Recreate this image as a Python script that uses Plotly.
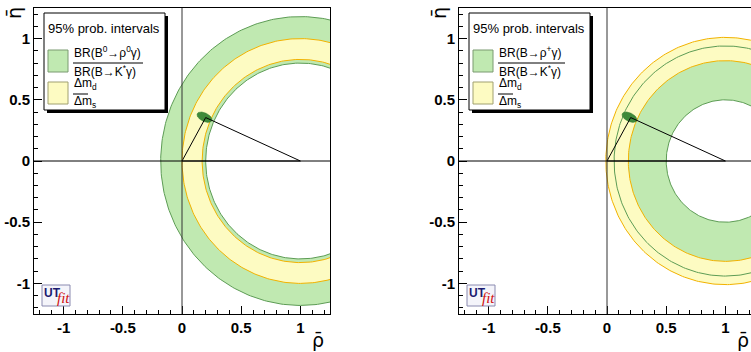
import numpy as np
import plotly.graph_objects as go

# ---------------- data ----------------
rho_tickvals = [-1, -0.5, 0, 0.5, 1]
rho_ticktext = ["-1", "-0.5", "0", "0.5", "1"]
eta_tickvals = [-1, -0.5, 0, 0.5, 1]
eta_ticktext = ["-1", "-0.5", "0", "0.5", "1"]
axis_range = [-1.25, 1.25]

circle_center = [1.0, 0.0]           # (rho, eta) of the constraint circles
# left panel: BR(B0->rho0 gamma)/BR(B->K* gamma) and dm_d/dm_s (inner, outer radius)
left_br_band = [0.80, 1.18]
left_dm_band = [0.83, 1.00]
# right panel: BR(B->rho+ gamma)/BR(B->K* gamma) and dm_d/dm_s
right_br_band = [0.50, 0.94]
right_dm_band = [0.82, 1.01]

fit_center = [0.19, 0.358]
fit_semi_axes = [0.068, 0.035]
fit_angle_deg = -25

triangle_rho = [0, 1, 0.20, 0]
triangle_eta = [0, 0, 0.355, 0]

legend_title = "95% prob. intervals"
legend_numerators = ["BR(B<sup>0</sup>→ρ<sup>0</sup>γ)", "BR(B→ρ<sup>+</sup>γ)"]
legend_denominator = "BR(B→K<sup>*</sup>γ)"
dm_num = "Δm<sub>d</sub>"
dm_den = "Δm<sub>s</sub>"

# ---------------- style ----------------
W, H = 751, 352
GREEN_FILL = "#c0e9b1"
GREEN_LINE = "#5d9c55"
YELLOW_FILL = "#fdfbc2"
ORANGE_LINE = "#f2b200"
FIT_FILL = "#3f8a3a"
FONT = "Liberation Sans"


def px(x):
    return x / W


def py(y):
    return 1 - y / H


theta = np.linspace(0, 2 * np.pi, 361)


def circle(r):
    return circle_center[0] + r * np.cos(theta), circle_center[1] + r * np.sin(theta)


def annulus(band):
    xo, yo = circle(band[1])
    xi, yi = circle(band[0])
    return np.concatenate([xo, xi[::-1]]), np.concatenate([yo, yi[::-1]])


fig = go.Figure()

panels = [
    dict(xa="x", ya="y", br=left_br_band, dm=left_dm_band),
    dict(xa="x2", ya="y2", br=right_br_band, dm=right_dm_band),
]

for p in panels:
    xa, ya = p["xa"], p["ya"]
    ax_, ay_ = annulus(p["br"])
    fig.add_trace(go.Scatter(x=ax_, y=ay_, mode="lines", fill="toself", fillcolor=GREEN_FILL,
                             line=dict(width=0, color=GREEN_FILL), xaxis=xa, yaxis=ya,
                             hoverinfo="skip", showlegend=False))
    ax_, ay_ = annulus(p["dm"])
    fig.add_trace(go.Scatter(x=ax_, y=ay_, mode="lines", fill="toself", fillcolor=YELLOW_FILL,
                             line=dict(width=0, color=YELLOW_FILL), xaxis=xa, yaxis=ya,
                             hoverinfo="skip", showlegend=False))
    for r in p["br"]:
        cx, cy = circle(r)
        fig.add_trace(go.Scatter(x=cx, y=cy, mode="lines", line=dict(width=1, color=GREEN_LINE),
                                 xaxis=xa, yaxis=ya, hoverinfo="skip", showlegend=False))
    for r in p["dm"]:
        cx, cy = circle(r)
        fig.add_trace(go.Scatter(x=cx, y=cy, mode="lines", line=dict(width=1, color=ORANGE_LINE),
                                 xaxis=xa, yaxis=ya, hoverinfo="skip", showlegend=False))
    a, b = fit_semi_axes
    ang = np.deg2rad(fit_angle_deg)
    ex = fit_center[0] + a * np.cos(theta) * np.cos(ang) - b * np.sin(theta) * np.sin(ang)
    ey = fit_center[1] + a * np.cos(theta) * np.sin(ang) + b * np.sin(theta) * np.cos(ang)
    fig.add_trace(go.Scatter(x=ex, y=ey, mode="lines", fill="toself", fillcolor=FIT_FILL,
                             line=dict(width=0.5, color="#357a30"), xaxis=xa, yaxis=ya,
                             hoverinfo="skip", showlegend=False))
    fig.add_trace(go.Scatter(x=triangle_rho, y=triangle_eta, mode="lines",
                             line=dict(width=1, color="black"), xaxis=xa, yaxis=ya,
                             hoverinfo="skip", showlegend=False))

axis_common = dict(
    range=axis_range, showgrid=False, zeroline=False, showline=True, linecolor="black",
    linewidth=1, ticks="inside", ticklen=8, tickwidth=1, tickcolor="black",
    minor=dict(dtick=0.1, ticks="inside", ticklen=4, tickcolor="black", tickwidth=1, showgrid=False),
    tickfont=dict(family=FONT, size=15, color="black", weight="bold"),
    layer="above traces", automargin=False,
)

fig.update_layout(
    width=W, height=H, margin=dict(l=0, r=0, t=0, b=0, autoexpand=False),
    paper_bgcolor="white", plot_bgcolor="white", showlegend=False,
    xaxis=dict(axis_common, domain=[px(34), px(330)], anchor="y", mirror=True,
               tickvals=rho_tickvals, ticktext=rho_ticktext),
    yaxis=dict(axis_common, domain=[py(314), py(8)], anchor="x", mirror=True,
               tickvals=eta_tickvals, ticktext=eta_ticktext),
    xaxis2=dict(axis_common, domain=[px(459), 1.0], anchor="y2", mirror=True,
                range=[axis_range[0], axis_range[0] + (751 - 459) / 118.4],
                tickvals=rho_tickvals, ticktext=rho_ticktext),
    yaxis2=dict(axis_common, domain=[py(314), py(8)], anchor="x2", mirror=False,
                tickvals=eta_tickvals, ticktext=eta_ticktext),
)

shapes = []
annotations = []
for i, (xa, ya) in enumerate([("x", "y"), ("x2", "y2")]):
    shapes.append(dict(type="line", xref=xa, yref=ya + " domain", x0=0, x1=0, y0=0, y1=1,
                       line=dict(color="#333333", width=1), layer="above"))
    shapes.append(dict(type="line", xref=xa + " domain", yref=ya, x0=0, x1=1, y0=0, y1=0,
                       line=dict(color="black", width=1), layer="above"))

    off = 0 if i == 0 else 425
    shapes.append(dict(type="rect", xref="paper", yref="paper",
                       x0=px(47 + off), x1=px(168 + off), y0=py(113), y1=py(16),
                       fillcolor="black", line=dict(width=0), layer="above"))
    shapes.append(dict(type="rect", xref="paper", yref="paper",
                       x0=px(44 + off), x1=px(165 + off), y0=py(110), y1=py(13),
                       fillcolor="white", line=dict(width=1, color="black"), layer="above"))
    shapes.append(dict(type="rect", xref="paper", yref="paper",
                       x0=px(48 + off), x1=px(68 + off), y0=py(72), y1=py(50),
                       fillcolor=GREEN_FILL, line=dict(width=1, color="#7a9a70"), layer="above"))
    shapes.append(dict(type="rect", xref="paper", yref="paper",
                       x0=px(48 + off), x1=px(68 + off), y0=py(104), y1=py(82),
                       fillcolor=YELLOW_FILL, line=dict(width=1, color="#a0a070"), layer="above"))
    bar_end = 143 if i == 0 else 140
    shapes.append(dict(type="line", xref="paper", yref="paper",
                       x0=px(73 + off), x1=px(bar_end + off), y0=py(63), y1=py(63),
                       line=dict(color="black", width=1), layer="above"))
    shapes.append(dict(type="line", xref="paper", yref="paper",
                       x0=px(73 + off), x1=px(88 + off), y0=py(94), y1=py(94),
                       line=dict(color="black", width=1), layer="above"))
    shapes.append(dict(type="rect", xref="paper", yref="paper",
                       x0=px(42 + off), x1=px(70 + off), y0=py(306), y1=py(285),
                       fillcolor="#f4f4fa", line=dict(width=1, color="#8a8ab0"), layer="above"))

    txt = dict(xref="paper", yref="paper", showarrow=False, xanchor="left", yanchor="middle")
    annotations += [
        dict(txt, x=px(46 + off), y=py(28), text=legend_title,
             font=dict(family=FONT, size=13, color="black")),
        dict(txt, x=px(72 + off), y=py(52), text=legend_numerators[i],
             font=dict(family=FONT, size=12, color="black")),
        dict(txt, x=px(72 + off), y=py(71), text=legend_denominator,
             font=dict(family=FONT, size=12, color="black")),
        dict(txt, x=px(72 + off), y=py(84), text=dm_num,
             font=dict(family=FONT, size=12, color="black")),
        dict(txt, x=px(72 + off), y=py(102), text=dm_den,
             font=dict(family=FONT, size=12, color="black")),
        dict(txt, x=px(42 + off), y=py(293), text="<b>UT</b>",
             font=dict(family=FONT, size=12, color="#1a1a70")),
        dict(txt, x=px(55 + off), y=py(298), text="<i>fit</i>",
             font=dict(family="Liberation Serif", size=15, color="#d01010")),
        dict(xref="paper", yref="paper", showarrow=False, xanchor="center", yanchor="middle",
             x=px(318 + off), y=py(340), text="ρ̄",
             font=dict(family="DejaVu Sans", size=19, color="black")),
        dict(xref="paper", yref="paper", showarrow=False, xanchor="center", yanchor="middle",
             x=px(14 + off), y=py(13), text="η̄", textangle=-90,
             font=dict(family="DejaVu Sans", size=19, color="black")),
    ]

fig.update_layout(shapes=shapes, annotations=annotations)
fig.write_html("out.html", config={"displayModeBar": False},
               post_script="document.body.style.margin='0';document.body.style.overflow='hidden';")
